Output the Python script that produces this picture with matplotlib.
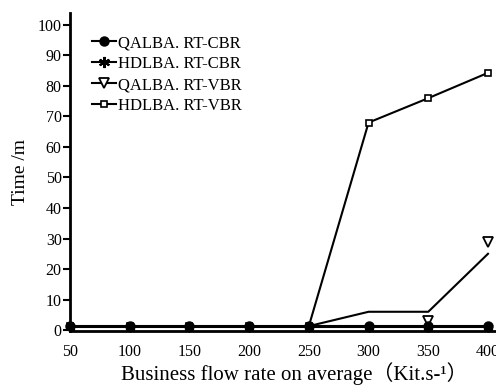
import numpy as np
import matplotlib
matplotlib.use("Agg")
from matplotlib import pyplot as plt
from matplotlib.lines import Line2D

plt.rcParams['font.family'] = ['Liberation Serif', 'Noto Sans CJK SC']

rate = [50, 100, 150, 200, 250, 300, 350, 400]
qalba_cbr = [1.3, 1.3, 1.3, 1.3, 1.3, 1.3, 1.3, 1.3]
hdlba_cbr = [1.0, 1.0, 1.0, 1.0, 1.0, 1.0, 1.0, 1.0]
qalba_vbr_line = [1.3, 1.3, 1.3, 1.3, 1.3, 6, 6, 25]
qalba_vbr_rate = [350, 400]
qalba_vbr_pts = [3, 29]
hdlba_vbr = [1.3, 1.3, 1.3, 1.3, 1.3, 68, 76, 84.3]

yticks = [0, 10, 20, 30, 40, 50, 60, 70, 80, 90, 100]

fig = plt.figure(figsize=(4.96, 3.88), dpi=100)
ax = fig.add_axes([70 / 496, 57 / 388, 1 - 70 / 496, (331 - 12.7) / 388])

lw = 1.5
star = (6, 2, 0)
ax.plot(rate, hdlba_vbr, color='k', lw=lw, marker='s', ms=5, mfc='white',
        mew=1.2, clip_on=False, zorder=3)
ax.plot(rate, qalba_vbr_line, color='k', lw=lw, clip_on=False, zorder=3)
ax.plot(qalba_vbr_rate, qalba_vbr_pts, ls='none', marker='v', ms=6.5,
        mfc='white', mec='k', mew=1.3, clip_on=False, zorder=4)
ax.plot(rate, hdlba_cbr, color='k', lw=lw, marker=star, ms=7, mew=1.5,
        clip_on=False, zorder=4)
ax.plot(rate, qalba_cbr, color='k', lw=lw, marker='o', ms=6.5, clip_on=False,
        zorder=5)

ax.set_xlim(50, 406.7)
ax.set_ylim(-0.3, 104)
ax.set_xticks(rate)
ax.set_yticks(yticks)
ax.spines['top'].set_visible(False)
ax.spines['right'].set_visible(False)
ax.spines['left'].set_linewidth(2)
ax.spines['bottom'].set_linewidth(2)
ax.tick_params(axis='y', direction='out', length=5, width=1.5, labelsize=11.5, pad=1)
ax.tick_params(axis='x', length=0, labelsize=11.5, pad=9)

ax.set_xlabel('Business flow rate on average（Kit.s-¹）', fontsize=15, labelpad=2)
ax.xaxis.label.set_x(0.526)
ax.set_ylabel('Time /m', fontsize=14, labelpad=6)

handles = [
    Line2D([], [], color='k', lw=lw, marker='o', ms=6.5),
    Line2D([], [], color='k', lw=lw, marker=star, ms=8, mew=1.5),
    Line2D([], [], color='k', lw=lw, marker='v', ms=6.5, mfc='white', mew=1.3),
    Line2D([], [], color='k', lw=lw, marker='s', ms=5, mfc='white', mew=1.2),
]
labels = ['QALBA. RT-CBR', 'HDLBA. RT-CBR', 'QALBA. RT-VBR', 'HDLBA. RT-VBR']
ax.legend(handles, labels, loc='upper left', bbox_to_anchor=(0.036, 0.95),
          frameon=False, fontsize=12, handlelength=1.45, handletextpad=0.1,
          labelspacing=0.3, borderaxespad=0)

fig.savefig("out.png", dpi=100)
